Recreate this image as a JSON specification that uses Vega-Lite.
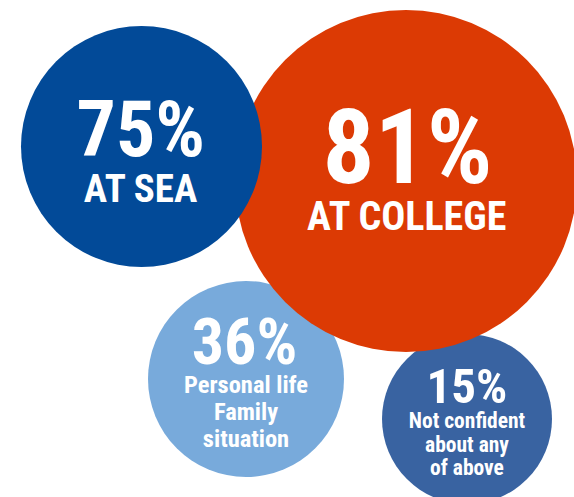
{
  "$schema": "https://vega.github.io/schema/vega-lite/v6.json",
  "width": 574,
  "height": 497,
  "padding": 0,
  "autosize": {"type": "none"},
  "background": "white",
  "config": {"view": {"stroke": null}, "text": {"font": "Roboto Condensed, DejaVu Sans Condensed, sans-serif", "fontWeight": "bold", "color": "white", "align": "center", "baseline": "alphabetic"}},
  "data": {
    "values": [
      {"id": "personal", "share": 0.36, "caption": "Personal life\nFamily\nsituation", "x": 246, "y": 379},
      {"id": "none", "share": 0.15, "caption": "Not confident\nabout any\nof above", "x": 467, "y": 419},
      {"id": "college", "share": 0.81, "caption": "AT COLLEGE", "x": 406, "y": 181},
      {"id": "sea", "share": 0.75, "caption": "AT SEA", "x": 141.5, "y": 146.5}
    ]
  },
  "encoding": {
    "x": {"field": "x", "type": "quantitative", "scale": {"domain": [0, 574], "nice": false, "zero": false}, "axis": null},
    "y": {"field": "y", "type": "quantitative", "scale": {"domain": [0, 497], "nice": false, "zero": false, "reverse": true}, "axis": null}
  },
  "layer": [
    {
      "mark": {"type": "point", "shape": "circle", "filled": true, "opacity": 1, "strokeWidth": 0},
      "encoding": {
        "size": {"field": "id", "type": "nominal", "legend": null, "scale": {"type": "ordinal", "domain": ["sea", "college", "personal", "none"], "range": [58081, 116964, 38416, 28900]}},
        "color": {"field": "id", "type": "nominal", "legend": null, "scale": {"domain": ["sea", "college", "personal", "none"], "range": ["#024A98", "#DC3A04", "#78AADB", "#3963A1"]}}
      }
    },
    {
      "transform": [{"filter": "datum.id === 'sea'"}],
      "mark": {"type": "text", "fontSize": 78, "dy": 9.5, "dx": -0.7},
      "encoding": {"text": {"field": "share", "type": "quantitative", "format": ".0%"}}
    },
    {
      "transform": [{"filter": "datum.id === 'sea'"}],
      "mark": {"type": "text", "fontSize": 39, "dy": 55, "dx": -1},
      "encoding": {"text": {"field": "caption", "type": "nominal"}}
    },
    {
      "transform": [{"filter": "datum.id === 'college'"}],
      "mark": {"type": "text", "fontSize": 103, "dy": 2, "dx": 1.5},
      "encoding": {"text": {"field": "share", "type": "quantitative", "format": ".0%"}}
    },
    {
      "transform": [{"filter": "datum.id === 'college'"}],
      "mark": {"type": "text", "fontSize": 40, "dy": 49, "dx": 0.7},
      "encoding": {"text": {"field": "caption", "type": "nominal"}}
    },
    {
      "transform": [{"filter": "datum.id === 'personal'"}],
      "mark": {"type": "text", "fontSize": 64, "dy": -15, "dx": -1.5},
      "encoding": {"text": {"field": "share", "type": "quantitative", "format": ".0%"}}
    },
    {
      "transform": [{"filter": "datum.id === 'personal'"}],
      "mark": {"type": "text", "fontSize": 24.5, "lineHeight": 27, "lineBreak": "\n", "dy": 14, "dx": 0},
      "encoding": {"text": {"field": "caption", "type": "nominal"}}
    },
    {
      "transform": [{"filter": "datum.id === 'none'"}],
      "mark": {"type": "text", "fontSize": 49, "dy": -16, "dx": 0},
      "encoding": {"text": {"field": "share", "type": "quantitative", "format": ".0%"}}
    },
    {
      "transform": [{"filter": "datum.id === 'none'"}],
      "mark": {"type": "text", "fontSize": 21.5, "lineHeight": 23.5, "lineBreak": "\n", "dy": 9, "dx": 0},
      "encoding": {"text": {"field": "caption", "type": "nominal"}}
    }
  ]
}
